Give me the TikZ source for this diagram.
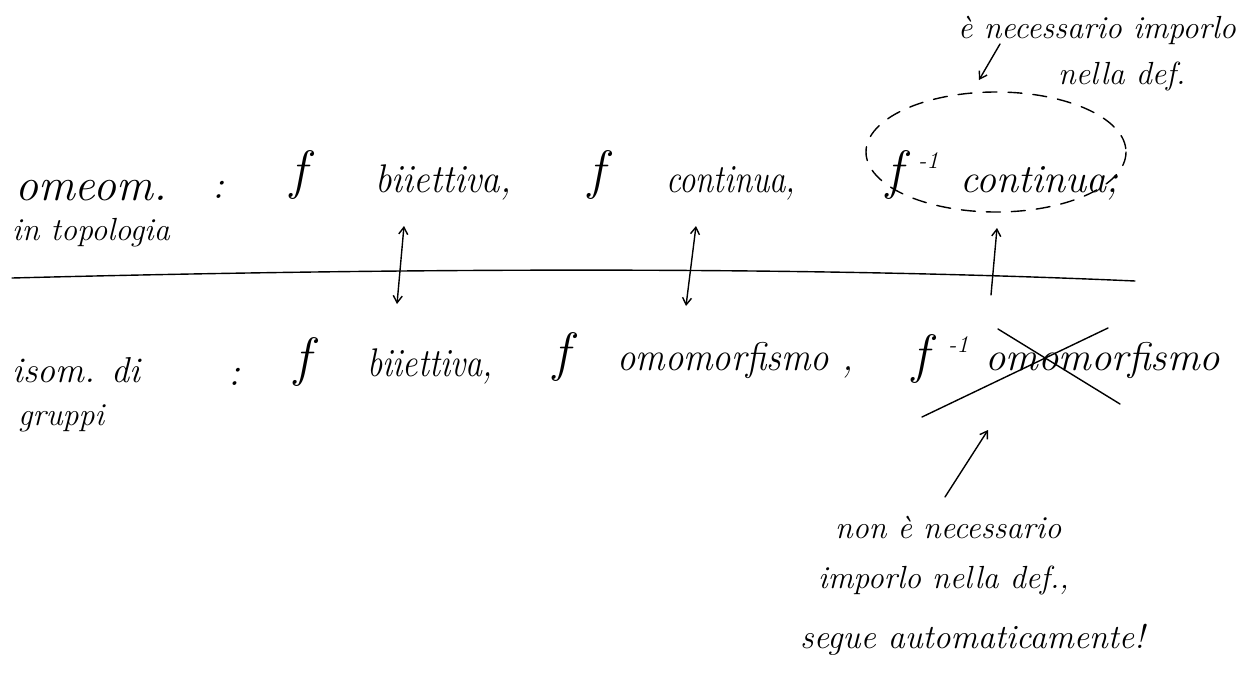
\documentclass[tikz,border=0pt]{standalone}
\usepackage{graphicx}
\usetikzlibrary{arrows.meta}
\begin{document}
\begin{tikzpicture}[x=1pt,y=-1pt,
  hw/.style={font=\itshape, inner sep=0pt, anchor=base west},
  big/.style={hw, font=\itshape\fontsize{40}{44}\selectfont},
  eff/.style={hw, font=\itshape\fontsize{54}{58}\selectfont},
  expo/.style={hw, font=\itshape\fontsize{24}{26}\selectfont},
  small/.style={hw, font=\itshape\fontsize{32}{36}\selectfont},
  note/.style={hw, font=\itshape\fontsize{32}{36}\selectfont},
  pen/.style={line width=1.4pt, line cap=round},
  tip/.style={pen, -{Straight Barb[length=7pt,width=9pt]}},
  dtip/.style={pen, {Straight Barb[length=7pt,width=9pt]}-{Straight Barb[length=7pt,width=9pt]}}]
\useasboundingbox (0,0) rectangle (1259,675);

% topology row
\node[big, font=\itshape\fontsize{46}{50}\selectfont] (omeom) at (15,200) {omeom.};
\node[small] (intop) at (12,240) {in topologia};
\node[big] (col1) at (212,198) {:};
\node[eff] (tf1) at (290,188) {f};
\node[big] (t1) at (375,192) {\scalebox{0.92}[1]{biiettiva,}};
\node[eff] (tf2) at (588,188) {f};
\node[big] (t2) at (666,192) {\scalebox{0.82}[1]{continua,}};
\node[eff] (tf3) at (886,188) {f};
\node[expo] (te3) at (918,168) {-1};
\node[big] (t3) at (960,192) {continua;};

% dashed loop round the last condition
\draw[pen, dash pattern=on 14pt off 11pt] (996,152) ellipse [x radius=130, y radius=60];

% note above
\node[note] (n1) at (958,38) {\`e necessario imporlo};
\node[note] (n2) at (1058,84) {nella def.};
\coordinate (n1a) at (1000,44);
\coordinate (n1b) at (979,80);
\draw[tip] (n1a) -- (n1b);

% dividing line
\coordinate (la) at (12,278);
\coordinate (lb) at (1135,281);
\draw[pen] (la) .. controls (400,268) and (800,266) .. (lb);

% correspondences between rows
\coordinate (a1t) at (404,226); \coordinate (a1b) at (397,304);
\coordinate (a2t) at (696,226); \coordinate (a2b) at (686,306);
\coordinate (a3t) at (997,228); \coordinate (a3b) at (991,295);
\draw[dtip] (a1t) -- (a1b);
\draw[dtip] (a2t) -- (a2b);
\draw[tip] (a3b) -- (a3t);

% group row
\node[note, font=\itshape\fontsize{36}{40}\selectfont] (isom) at (12,382) {isom. di};
\node[small] (grup) at (18,425) {gruppi};
\node[big] (col2) at (228,385) {:};
\node[eff] (bf1) at (294,375) {f};
\node[big] (b1) at (367,376) {\scalebox{0.85}[1]{biiettiva,}};
\node[eff] (bf2) at (553,370) {f};
\node[big] (b2) at (617,370) {\scalebox{0.92}[1]{omomorfismo ,}};
\node[eff] (bf3) at (912,372) {f};
\node[expo] (be3) at (948,352) {-1};
\node[big] (b3) at (985,370) {\scalebox{1.02}[1]{omomorfismo}};

% crossing out
\coordinate (xa) at (922,417); \coordinate (xb) at (1108,328);
\coordinate (xc) at (998,329); \coordinate (xd) at (1120,404);
\draw[pen] (xa) -- (xb);
\draw[pen] (xc) -- (xd);

% note below
\coordinate (n3a) at (945,497);
\coordinate (n3b) at (988,430);
\draw[tip] (n3a) -- (n3b);
\node[note] (n3) at (835,538) {non \`e necessario};
\node[note] (n4) at (818,588) {imporlo nella def.,};
\node[note, font=\itshape\fontsize{34}{38}\selectfont] (n5) at (800,648) {segue automaticamente!};
\end{tikzpicture}
\end{document}
